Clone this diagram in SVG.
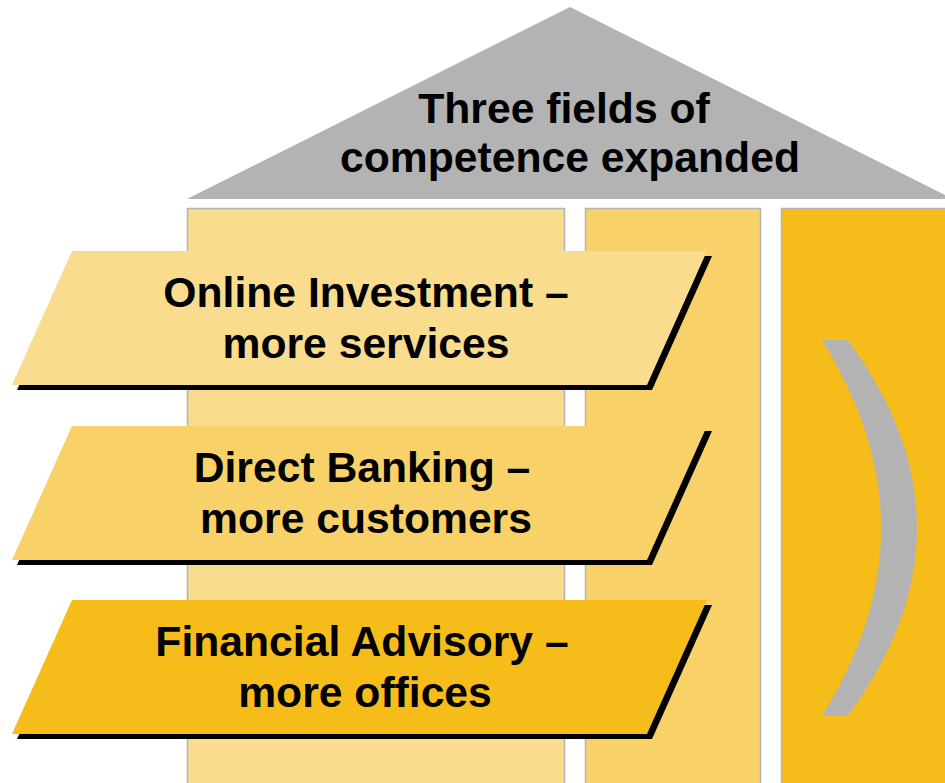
<svg xmlns="http://www.w3.org/2000/svg" width="945" height="783" viewBox="0 0 945 783">
  <style>
    .pillar { stroke: #b3b3b3; stroke-width: 1.5; }
    .light { fill: #f9dc8d; }
    .mid { fill: #f8d268; }
    .dark { fill: #f6bd1a; }
    .shadow { fill: #000000; }
    .t { font-family: "Liberation Sans", Arial, Helvetica, sans-serif; font-weight: bold; font-size: 42.67px; fill: #000000; text-anchor: middle; }
  </style>
  <defs>
    <polygon id="para" points="72,0 707,0 647,134 12,134"/>
  </defs>
  <rect width="945" height="783" fill="#ffffff"/>

  <g id="roof">
    <polygon points="570,7 953,199 187,199" fill="#b3b3b3"/>
    <text class="t" x="564" y="123">Three fields of</text>
    <text class="t" x="570" y="172">competence expanded</text>
  </g>

  <g id="pillar-left">
    <rect class="pillar light" x="187.5" y="208.5" width="377" height="600"/>
  </g>
  <g id="pillar-middle">
    <rect class="pillar mid" x="585.5" y="208.5" width="175" height="600"/>
  </g>
  <g id="pillar-right">
    <rect class="pillar dark" x="781.5" y="208.5" width="200" height="600"/>
    <path d="M822,340 L848,340 C895,405 917,465 917,528 C917,591 895,651 848,716 L822,716 C862,651 881,591 881,528 C881,465 862,405 822,340 Z" fill="#b3b3b3"/>
  </g>

  <g id="online-investment">
    <use href="#para" class="shadow" transform="translate(5,256)"/>
    <use href="#para" class="light" transform="translate(0,251)"/>
    <text class="t" x="366" y="307">Online Investment –</text>
    <text class="t" x="366" y="358">more services</text>
  </g>

  <g id="direct-banking">
    <use href="#para" class="shadow" transform="translate(5,431)"/>
    <use href="#para" class="mid" transform="translate(0,426)"/>
    <text class="t" x="362" y="482">Direct Banking –</text>
    <text class="t" x="366" y="533">more customers</text>
  </g>

  <g id="financial-advisory">
    <use href="#para" class="shadow" transform="translate(5,605)"/>
    <use href="#para" class="dark" transform="translate(0,600)"/>
    <text class="t" x="362" y="656">Financial Advisory –</text>
    <text class="t" x="365" y="707">more offices</text>
  </g>

  <g id="connectors"/>
</svg>
